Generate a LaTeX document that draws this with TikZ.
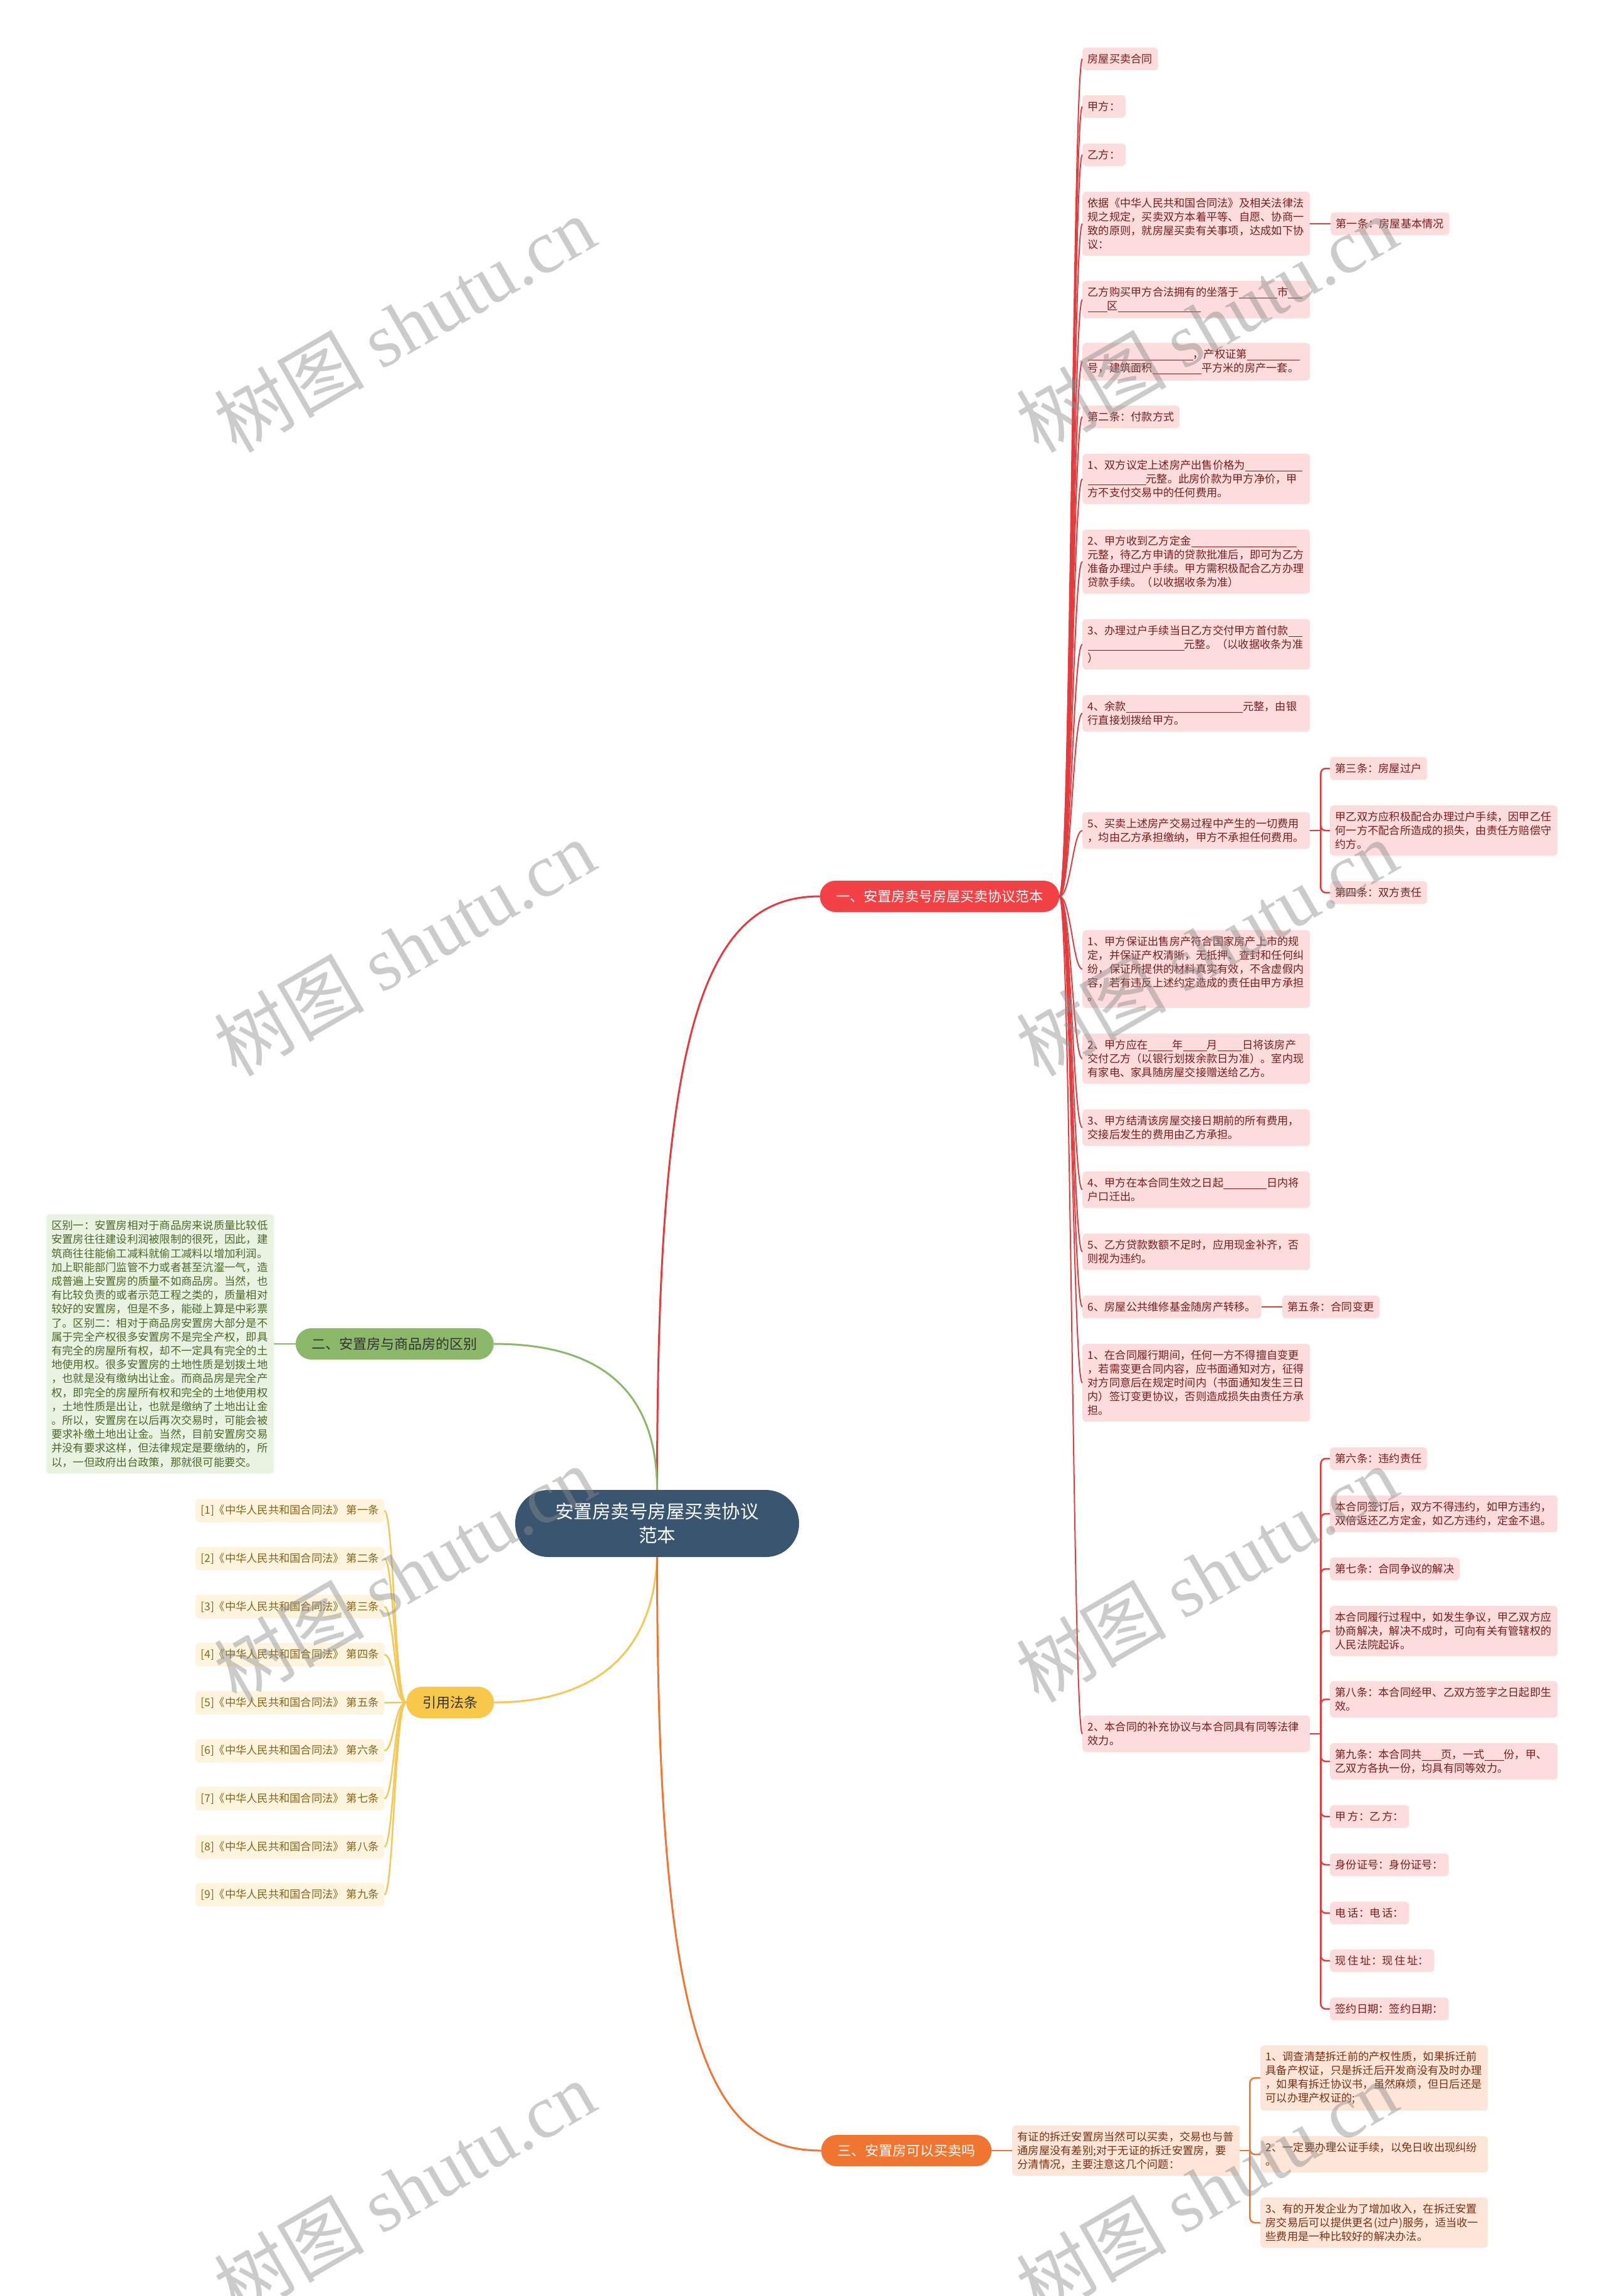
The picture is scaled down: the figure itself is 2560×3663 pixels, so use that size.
\documentclass[tikz,border=0pt]{standalone}
\usepackage{fontspec}
\setmainfont{Noto Sans CJK SC}
\newfontfamily\wmlatin{Liberation Serif}
\definecolor{cnode}{RGB}{58,85,112}
\definecolor{rpill}{RGB}{243,66,70}
\definecolor{rline}{RGB}{226,60,62}
\definecolor{rfill}{RGB}{252,220,220}
\definecolor{rtext}{RGB}{120,30,30}
\definecolor{gpill}{RGB}{140,184,106}
\definecolor{gfill}{RGB}{234,242,226}
\definecolor{gtext}{RGB}{75,105,40}
\definecolor{ypill}{RGB}{247,200,74}
\definecolor{yline}{RGB}{245,200,85}
\definecolor{yfill}{RGB}{253,244,222}
\definecolor{ytext}{RGB}{135,100,25}
\definecolor{opill}{RGB}{240,117,48}
\definecolor{ofill}{RGB}{253,229,216}
\definecolor{otext}{RGB}{120,50,20}
\newcommand\tf{\fontsize{17.25pt}{22pt}\selectfont}
\newcommand\gtf{\fontsize{17.25pt}{22.2pt}\selectfont}
\newcommand\bl[1]{\rule[-3pt]{#1pt}{0.8pt}}
\tikzset{
  box/.style={rounded corners=6pt, inner xsep=8.5pt, inner ysep=10pt, font=\tf, anchor=west},
  wrap/.style={text width=346pt, align=left},
  rb/.style={box, fill=rfill, text=rtext},
  gb/.style={box, fill=gfill, text=gtext, font=\gtf},
  yb/.style={box, fill=yfill, text=ytext},
  ob/.style={box, fill=ofill, text=otext},
  pill/.style={rounded corners=25pt, minimum height=50pt, inner xsep=26pt, inner ysep=0pt, font=\fontsize{22pt}{26pt}\selectfont, text=white},
  rl/.style={draw=rline, line width=2pt},
  rbr/.style={draw=rline, line width=2.5pt, rounded corners=8pt},
  gl/.style={draw=gpill, line width=2.5pt},
  yl/.style={draw=yline, line width=2.5pt},
  ol/.style={draw=opill, line width=2.5pt},
  obr/.style={draw=opill, line width=2.5pt, rounded corners=8pt},
  wm/.style={rotate=30, text=black!45, text opacity=0.45, font=\fontsize{120pt}{120pt}\selectfont},
}
\begin{document}
\begin{tikzpicture}[x=1pt,y=-1pt]
\useasboundingbox (0,0) rectangle (2560,3663);
\fill[white] (0,0) rectangle (2560,3663);

% central
\node[fill=cnode, text=white, rounded corners=53pt, minimum width=453pt, minimum height=107pt, align=center, font=\fontsize{29.5pt}{38pt}\selectfont] (c) at (1048.5,2430.5) {安置房卖号房屋买卖协议\\范本};

% main branches
\node[pill, fill=rpill, anchor=west] (rp) at (1308,1430) {一、安置房卖号房屋买卖协议范本};
\node[pill, fill=gpill, anchor=east, text=black!80] (gp) at (788,2144) {二、安置房与商品房的区别};
\node[pill, fill=ypill, anchor=west, text=black!80] (yp) at (648,2716) {引用法条};
\node[pill, fill=opill, anchor=west] (op) at (1310,3431) {三、安置房可以买卖吗};

% red children
\node[rb] (r1) at (1727,94) {房屋买卖合同};
\node[rb] (r2) at (1727,170) {甲方：};
\node[rb] (r3) at (1727,247) {乙方：};
\node[rb,wrap] (r4) at (1727,357) {依据《中华人民共和国合同法》及相关法律法\\规之规定，买卖双方本着平等、自愿、协商一\\致的原则，就房屋买卖有关事项，达成如下协\\议：};
\node[rb] (r4a) at (2123,357) {第一条：房屋基本情况};
\node[rb,wrap] (r5) at (1727,478) {乙方购买甲方合法拥有的坐落于\bl{61}市\bl{23}\\\bl{31}区\bl{132}};
\node[rb,wrap] (r6) at (1727,577) {\bl{168}，产权证第\bl{84}\\号，建筑面积\bl{78}平方米的房产一套。};
\node[rb] (r7) at (1727,665) {第二条：付款方式};
\node[rb,wrap] (r8) at (1727,764) {1、双方议定上述房产出售价格为\bl{91}\\\bl{93}元整。此房价款为甲方净价，甲\\方不支付交易中的任何费用。};
\node[rb,wrap] (r9) at (1727,896) {2、甲方收到乙方定金\bl{168}\\元整，待乙方申请的贷款批准后，即可为乙方\\准备办理过户手续。甲方需积极配合乙方办理\\贷款手续。（以收据收条为准）};
\node[rb,wrap] (r10) at (1727,1028) {3、办理过户手续当日乙方交付甲方首付款\bl{22}\\\bl{154}元整。（以收据收条为准\\）};
\node[rb,wrap] (r11) at (1727,1138) {4、余款\bl{186}元整，由银\\行直接划拨给甲方。};
\node[rb,wrap] (r12) at (1727,1325) {5、买卖上述房产交易过程中产生的一切费用\\，均由乙方承担缴纳，甲方不承担任何费用。};
\node[rb] (r12a) at (2122,1226) {第三条：房屋过户};
\node[rb,wrap] (r12b) at (2122,1325) {甲乙双方应积极配合办理过户手续，因甲乙任\\何一方不配合所造成的损失，由责任方赔偿守\\约方。};
\node[rb] (r12c) at (2122,1424) {第四条：双方责任};
\node[rb,wrap] (r13) at (1727,1546) {1、甲方保证出售房产符合国家房产上市的规\\定，并保证产权清晰，无抵押、查封和任何纠\\纷，保证所提供的材料真实有效，不含虚假内\\容，若有违反上述约定造成的责任由甲方承担\\。};
\node[rb,wrap] (r14) at (1727,1689) {2、甲方应在\bl{39}年\bl{38}月\bl{39}日将该房产\\交付乙方（以银行划拨余款日为准）。室内现\\有家电、家具随房屋交接赠送给乙方。};
\node[rb,wrap] (r15) at (1727,1799) {3、甲方结清该房屋交接日期前的所有费用，\\交接后发生的费用由乙方承担。};
\node[rb,wrap] (r16) at (1727,1898) {4、甲方在本合同生效之日起\bl{69}日内将\\户口迁出。};
\node[rb,wrap] (r17) at (1727,1997) {5、乙方贷款数额不足时，应用现金补齐，否\\则视为违约。};
\node[rb] (r18) at (1727,2085) {6、房屋公共维修基金随房产转移。};
\node[rb] (r18a) at (2046,2085) {第五条：合同变更};
\node[rb,wrap] (r19) at (1727,2206) {1、在合同履行期间，任何一方不得擅自变更\\，若需变更合同内容，应书面通知对方，征得\\对方同意后在规定时间内（书面通知发生三日\\内）签订变更协议，否则造成损失由责任方承\\担。};
\node[rb,wrap] (r20) at (1727,2766) {2、本合同的补充协议与本合同具有同等法律\\效力。};
\node[rb] (s1) at (2122,2327) {第六条：违约责任};
\node[rb,wrap] (s2) at (2122,2415) {本合同签订后，双方不得违约，如甲方违约，\\双倍返还乙方定金，如乙方违约，定金不退。};
\node[rb] (s3) at (2122,2503) {第七条：合同争议的解决};
\node[rb,wrap] (s4) at (2122,2602) {本合同履行过程中，如发生争议，甲乙双方应\\协商解决，解决不成时，可向有关有管辖权的\\人民法院起诉。};
\node[rb,wrap] (s5) at (2122,2711) {第八条：本合同经甲、乙双方签字之日起即生\\效。};
\node[rb,wrap] (s6) at (2122,2810) {第九条：本合同共\bl{31}页，一式\bl{31}份，甲、\\乙双方各执一份，均具有同等效力。};
\node[rb] (s7) at (2122,2898) {甲\,方：乙\,方：};
\node[rb] (s8) at (2122,2975) {身份证号：身份证号：};
\node[rb] (s9) at (2122,3052) {电\,话：电\,话：};
\node[rb] (s10) at (2122,3128) {现\,住\,址：现\,住\,址：};
\node[rb] (s11) at (2122,3205) {签约日期：签约日期：};

% green
\node[gb,wrap,anchor=east] (g1) at (437,2144) {区别一：安置房相对于商品房来说质量比较低\\安置房往往建设利润被限制的很死，因此，建\\筑商往往能偷工减料就偷工减料以增加利润。\\加上职能部门监管不力或者甚至沆瀣一气，造\\成普遍上安置房的质量不如商品房。当然，也\\有比较负责的或者示范工程之类的，质量相对\\较好的安置房，但是不多，能碰上算是中彩票\\了。区别二：相对于商品房安置房大部分是不\\属于完全产权很多安置房不是完全产权，即具\\有完全的房屋所有权，却不一定具有完全的土\\地使用权。很多安置房的土地性质是划拨土地\\，也就是没有缴纳出让金。而商品房是完全产\\权，即完全的房屋所有权和完全的土地使用权\\，土地性质是出让，也就是缴纳了土地出让金\\。所以，安置房在以后再次交易时，可能会被\\要求补缴土地出让金。当然，目前安置房交易\\并没有要求这样，但法律规定是要缴纳的，所\\以，一但政府出台政策，那就很可能要交。};

% legal references
\node[yb] (L1) at (312,2410) {[1]《中华人民共和国合同法》 第一条};
\node[yb] (L2) at (312,2486.6) {[2]《中华人民共和国合同法》 第二条};
\node[yb] (L3) at (312,2563.2) {[3]《中华人民共和国合同法》 第三条};
\node[yb] (L4) at (312,2639.8) {[4]《中华人民共和国合同法》 第四条};
\node[yb] (L5) at (312,2716.4) {[5]《中华人民共和国合同法》 第五条};
\node[yb] (L6) at (312,2793) {[6]《中华人民共和国合同法》 第六条};
\node[yb] (L7) at (312,2869.6) {[7]《中华人民共和国合同法》 第七条};
\node[yb] (L8) at (312,2946.2) {[8]《中华人民共和国合同法》 第八条};
\node[yb] (L9) at (312,3022.8) {[9]《中华人民共和国合同法》 第九条};

% orange
\node[ob,wrap] (o1) at (1615,3431) {有证的拆迁安置房当然可以买卖，交易也与普\\通房屋没有差别;对于无证的拆迁安置房，要\\分清情况，主要注意这几个问题：};
\node[ob,wrap] (oc1) at (2011,3315) {1、调查清楚拆迁前的产权性质，如果拆迁前\\具备产权证，只是拆迁后开发商没有及时办理\\，如果有拆迁协议书，虽然麻烦，但日后还是\\可以办理产权证的;};
\node[ob,wrap] (oc2) at (2011,3437) {2、一定要办理公证手续，以免日收出现纠纷\\。};
\node[ob,wrap] (oc3) at (2011,3546) {3、有的开发企业为了增加收入，在拆迁安置\\房交易后可以提供更名(过户)服务，适当收一\\些费用是一种比较好的解决办法。};

% main connectors
\draw[rline, line width=3pt] (c.north) .. controls (1048,1650) and (1120,1430) .. (rp.west);
\draw[gl, line width=3pt] (c.north) .. controls (1048,2220) and (960,2144) .. (gp.east);
\draw[yl, line width=3pt] (c.south) .. controls (1040,2690) and (880,2716) .. (yp.east);
\draw[ol, line width=3pt] (c.south) .. controls (1048,3250) and (1130,3431) .. (op.west);

% red fan
\foreach \n in {r1,r2,r3,r4,r5,r6,r7,r8,r9,r10,r11,r12,r13,r14,r15,r16,r17,r18,r19,r20}
  \draw[rl] (rp.east) .. controls +(18,0) and +(-15,0) .. (\n.west);
\draw[rbr] (r4.east) -- (r4a.west);
\draw[rbr] (r18.east) -- (r18a.west);
\draw[rbr] (r12.east) -- ++(17,0) coordinate (b1);
\foreach \n in {r12a,r12b,r12c} \draw[rbr] (b1) |- (\n.west);
\draw[rbr] (r20.east) -- ++(17,0) coordinate (b2);
\foreach \n in {s1,s2,s3,s4,s5,s6,s7,s8,s9,s10,s11} \draw[rbr] (b2) |- (\n.west);

% green
\draw[gl] (gp.west) -- (g1.east);

% yellow fan
\foreach \n in {L1,L2,L3,L4,L5,L6,L7,L8,L9}
  \draw[yl] (yp.west) .. controls +(-18,0) and +(15,0) .. (\n.east);

% orange
\draw[ol] (op.east) -- (o1.west);
\draw[obr] (o1.east) -- ++(16,0) coordinate (b3);
\foreach \n in {oc1,oc2,oc3} \draw[obr] (b3) |- (\n.west);

% watermarks
\foreach \wx in {645,1925}
  \foreach \wy in {517,1512,2511,3492}
    \node[wm] (w\wx-\wy) at (\wx,\wy) {树图 {\wmlatin shutu.cn}};
\end{tikzpicture}
\end{document}
